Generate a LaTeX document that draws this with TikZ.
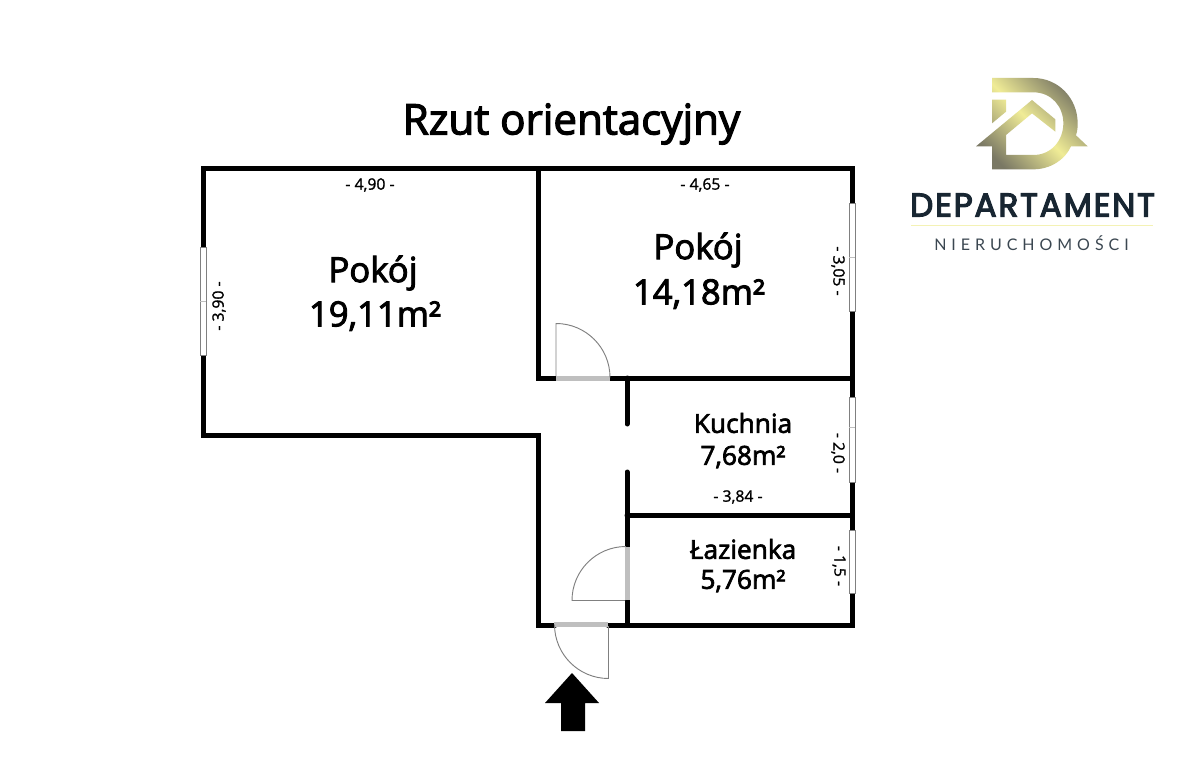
\documentclass[tikz,border=0pt]{standalone}
\usepackage{fontspec}
\setmainfont{Open Sans}
\newfontfamily\brandfont[LetterSpace=5.5]{Poppins}
\newfontfamily\subfont[LetterSpace=31]{Lato}
\newcommand{\heavy}[2]{\special{pdf:code q 2 Tr #1 w}#2\special{pdf:code Q}}
\newcommand{\heavydark}[2]{\special{pdf:code q 2 Tr #1 w 0.094 0.149 0.196 RG}#2\special{pdf:code Q}}
\definecolor{darkbrand}{RGB}{24,38,50}
\definecolor{golddark}{RGB}{122,120,100}
\definecolor{goldlight}{RGB}{240,236,150}
\tikzset{
  wall/.style={line width=3.75pt,line cap=round,line join=miter,draw=black},
  opening/.style={line width=3.75pt,draw=black!25},
  leaf/.style={line width=0.7pt,draw=black!50},
  win/.style={draw=black!50,line width=0.6pt,fill=white},
  dim/.style={font=\fontsize{11.8}{13}\selectfont,inner sep=0pt},
  bigroom/.style={font=\fontsize{26}{30}\selectfont,inner sep=0pt},
  smallroom/.style={font=\fontsize{19.7}{22}\selectfont,inner sep=0pt},
}
\begin{document}
\begin{tikzpicture}[x=0.75pt,y=-0.75pt]
\path[use as bounding box,fill=white] (0,0) rectangle (1200,763);

% walls
\draw[wall] (555,625) -- (538,625) -- (538,435) -- (203,435) -- (203,169) -- (852,169) -- (852,625) -- (608,625);
\draw[wall] (538,169) -- (538,378) -- (556,378);
\draw[wall] (610,378) -- (852,378);
\draw[wall] (627,378) -- (627,424);
\draw[wall] (627,472) -- (627,625);
\draw[wall] (627,515) -- (852,515);

% windows
\draw[win] (200,247) rectangle (206,355);
\draw[win] (849,203) rectangle (855,311);
\draw[win] (849,397) rectangle (855,482);
\draw[win] (849,530) rectangle (855,593);
\draw[draw=black!25,line width=0.3pt] (200,301) -- (206,301);
\draw[draw=black!25,line width=0.3pt] (849,257) -- (855,257);
\draw[draw=black!25,line width=0.3pt] (849,427) -- (855,427);

% doors
\draw[opening] (556,378) -- (610,378);
\draw[leaf] (556,376) -- (556,323.5) arc[start angle=-90,end angle=0,radius=54];
\draw[opening] (627,547) -- (627,600);
\draw[leaf] (625,600.5) -- (572,600.5) arc[start angle=180,end angle=270,radius=54];
\draw[opening] (554,624) -- (608,624);
\draw[leaf] (608.5,626) -- (608.5,678.5) arc[start angle=90,end angle=180,radius=54];

% entrance arrow
\fill[black] (572,673) -- (599,703) -- (585,703) -- (585,731) -- (561,731) -- (561,703) -- (545,703) -- cycle;

% title
\node[font=\fontsize{31.6}{36}\selectfont,inner sep=0pt] (title) at (571.5,124) {\heavy{0.9}{Rzut orientacyjny}};

% rooms
\node[bigroom] (r1) at (373,273) {\heavy{0.7}{Pokój}};
\node[bigroom] (r1a) at (375,316) {\heavy{0.7}{19,11m²}};
\node[bigroom] (r2) at (698,250) {\heavy{0.7}{Pokój}};
\node[bigroom] (r2a) at (699,294) {\heavy{0.7}{14,18m²}};
\node[smallroom] (r3) at (743,423) {\heavy{0.5}{Kuchnia}};
\node[smallroom] (r3a) at (743,457) {\heavy{0.5}{7,68m²}};
\node[smallroom] (r4) at (743,549) {\heavy{0.5}{Łazienka}};
\node[smallroom] (r4a) at (743,581) {\heavy{0.5}{5,76m²}};

% dimensions
\node[dim] (d1) at (370,185) {\heavy{0.15}{- 4,90 -}};
\node[dim] (d2) at (705,185) {\heavy{0.15}{- 4,65 -}};
\node[dim] (d3) at (738,497) {\heavy{0.15}{- 3,84 -}};
\node[dim,rotate=90] (d4) at (219,306) {\heavy{0.15}{- 3,90 -}};
\node[dim,rotate=-90] (d5) at (838,271) {\heavy{0.15}{- 3,05 -}};
\node[dim,rotate=-90] (d6) at (838,453) {\heavy{0.15}{- 2,0 -}};
\node[dim,rotate=-90] (d7) at (839,566) {\heavy{0.15}{- 1,5 -}};

% logo mark
\begin{scope}[shift={(900,60)},x=0.25pt,y=-0.25pt]
\shade[left color=golddark,right color=golddark,middle color=goldlight,shading angle=-45]
  (276,54) -- (276,97) -- (400,97) .. controls (455,97) and (490,140) .. (490,190)
  .. controls (490,240) and (455,285) .. (400,285) -- (318,285) -- (318,225) -- (396,160) -- (466,215) -- (466,178) -- (396,120) -- (228,259) -- (276,259) -- (276,328) -- (400,328)
  .. controls (450,328) and (495,300) .. (513,259) -- (563,259) -- (528,226)
  .. controls (533,210) and (533,200) .. (533,190) .. controls (533,115) and (475,54) .. (400,54) -- cycle
  (276,119) -- (318,119) -- (318,155) -- (276,190) -- cycle;
\end{scope}

% logo text
\node[font=\brandfont\fontsize{24.6}{28}\selectfont,text=darkbrand,inner sep=0pt] (brand) at (1032.5,205) {\heavydark{0.9}{DEPARTAMENT}};
\draw[draw=goldlight!70!white,line width=0.6pt] (911,225.5) -- (1153,225.5);
\node[font=\subfont\fontsize{12}{14}\selectfont,text=darkbrand!85,inner sep=0pt] (sub) at (1031.5,243) {NIERUCHOMOŚCI};
\end{tikzpicture}
\end{document}
